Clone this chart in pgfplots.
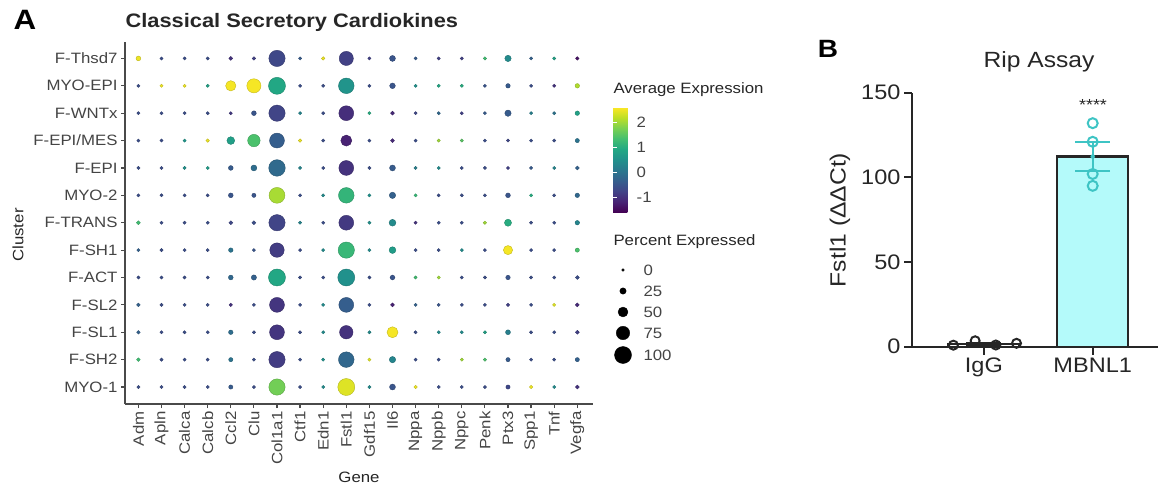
\documentclass[border=0pt]{standalone}
\usepackage{fontspec}
\setmainfont{Liberation Sans}[FakeStretch=1.12]
\usepackage{pgfplots}
\usepackage{pgfplotstable}
\pgfplotsset{compat=1.18}
\definecolor{tgray}{HTML}{444444}
\definecolor{agray}{HTML}{4A4A4A}
\definecolor{tealpt}{RGB}{62,196,196}
\definecolor{barfill}{RGB}{180,250,250}
\definecolor{bdark}{HTML}{262626}
\pgfplotsset{colormap={vir}{rgb255=(68,1,84) rgb255=(72,36,117) rgb255=(65,68,135) rgb255=(53,95,141) rgb255=(42,120,142) rgb255=(33,145,140) rgb255=(34,168,132) rgb255=(68,191,112) rgb255=(122,209,81) rgb255=(189,223,38) rgb255=(253,231,37)}}
\newcommand{\fs}[1]{\fontsize{#1}{#1}\selectfont}

% x = gene index, y = cluster index (0 = MYO-1 ... 12 = F-Thsd7), p = percent expressed, v = average expression
\pgfplotstableread{
x y p v
0 12 14 2.5
1 12 3 -0.6
2 12 3 -0.6
3 12 3 -0.6
4 12 8 -1.0
5 12 5 -0.8
6 12 95 -0.7
7 12 3 -0.4
8 12 5 2.5
9 12 80 -0.8
10 12 3 -0.8
11 12 22 -0.5
12 12 3 -0.4
13 12 3 -0.8
14 12 3 -0.8
15 12 4 1.3
16 12 25 0.4
17 12 3 -0.3
18 12 3 0.8
19 12 5 -1.4
0 11 3 -0.6
1 11 3 2.5
2 11 3 2.5
3 11 3 0.8
4 11 53 2.55
5 11 80 2.55
6 11 100 0.9
7 11 3 -0.6
8 11 3 -0.6
9 11 90 0.55
10 11 3 -0.6
11 11 20 -0.5
12 11 3 0.5
13 11 3 0.9
14 11 3 1.0
15 11 3 -0.5
16 11 12 -0.4
17 11 3 -0.6
18 11 3 -1.0
19 11 12 2.1
0 10 3 -0.6
1 10 3 -0.6
2 10 3 -0.6
3 10 3 -0.6
4 10 3 -0.9
5 10 14 -0.5
6 10 95 -0.75
7 10 3 0.3
8 10 3 -0.6
9 10 85 -1.05
10 10 3 1.0
11 10 8 -1.1
12 10 3 -0.7
13 10 3 -0.2
14 10 3 -0.8
15 10 3 -0.4
16 10 25 -0.4
17 10 3 0.2
18 10 3 0.0
19 10 12 0.8
0 9 3 -0.6
1 9 3 -0.6
2 9 3 0.6
3 9 5 2.5
4 9 35 0.75
5 9 68 1.4
6 9 85 -0.35
7 9 5 2.5
8 9 3 -0.6
9 9 58 -1.2
10 9 3 -0.6
11 9 8 -1.1
12 9 3 -0.6
13 9 3 2.0
14 9 3 1.5
15 9 3 -0.6
16 9 3 -0.7
17 9 3 -0.6
18 9 3 -0.6
19 9 10 0.0
0 8 3 -0.6
1 8 3 -0.6
2 8 3 0.5
3 8 3 0.7
4 8 14 -0.4
5 8 22 -0.1
6 8 97 -0.15
7 8 3 0.3
8 8 3 -0.6
9 8 85 -1.0
10 8 3 -0.6
11 8 22 -0.4
12 8 3 0.2
13 8 3 0.4
14 8 3 -0.6
15 8 3 -0.6
16 8 3 -0.8
17 8 3 -0.4
18 8 3 0.3
19 8 8 -0.3
0 7 3 -0.6
1 7 3 -0.6
2 7 3 -0.6
3 7 3 -0.6
4 7 14 -0.5
5 7 10 -0.5
6 7 92 2.05
7 7 3 -0.6
8 7 3 0.4
9 7 90 1.15
10 7 3 0.5
11 7 25 -0.3
12 7 3 1.2
13 7 3 -0.6
14 7 3 -0.6
15 7 3 -0.6
16 7 14 -0.5
17 7 3 1.0
18 7 3 -0.6
19 7 12 -0.2
0 6 8 1.3
1 6 3 -0.6
2 6 3 -0.6
3 6 3 -0.6
4 6 8 -0.7
5 6 8 -0.6
6 6 95 -0.75
7 6 3 0.3
8 6 3 -0.6
9 6 85 -0.9
10 6 3 0.5
11 6 28 0.4
12 6 3 -1.0
13 6 3 -0.6
14 6 3 -0.6
15 6 4 2.0
16 6 30 1.0
17 6 3 -0.6
18 6 3 -0.6
19 6 12 0.3
0 5 3 -0.3
1 5 3 -0.6
2 5 3 -0.6
3 5 3 -0.6
4 5 12 0.0
5 5 3 -0.5
6 5 82 -0.85
7 5 3 -0.6
8 5 3 0.4
9 5 95 1.2
10 5 3 0.4
11 5 28 0.7
12 5 3 -0.6
13 5 3 -0.6
14 5 3 0.4
15 5 3 -0.6
16 5 45 2.55
17 5 3 -0.6
18 5 3 -0.6
19 5 10 1.4
0 4 3 -0.6
1 4 3 -0.6
2 4 3 -0.6
3 4 3 -0.6
4 4 14 -0.2
5 4 17 -0.3
6 4 100 0.9
7 4 3 -0.6
8 4 3 -0.6
9 4 100 0.5
10 4 3 -0.6
11 4 14 -0.5
12 4 3 1.3
13 4 3 2.0
14 4 3 -0.6
15 4 3 -0.6
16 4 12 -0.5
17 4 3 -0.6
18 4 3 -0.6
19 4 8 -0.6
0 3 6 -0.3
1 3 3 -0.6
2 3 3 -0.6
3 3 3 -0.6
4 3 5 -1.0
5 3 3 -0.6
6 3 85 -0.95
7 3 3 -0.6
8 3 3 0.4
9 3 85 -0.35
10 3 3 -0.6
11 3 8 -1.2
12 3 3 -0.3
13 3 3 -0.5
14 3 3 -0.6
15 3 3 -0.6
16 3 6 -0.8
17 3 3 -0.6
18 3 3 2.4
19 3 8 -1.1
0 2 6 -0.3
1 2 3 -0.6
2 2 3 -0.6
3 2 3 -0.6
4 2 12 -0.1
5 2 3 -0.6
6 2 85 -0.95
7 2 3 -0.6
8 2 3 0.4
9 2 75 -1.0
10 2 3 0.4
11 2 58 2.55
12 2 3 -0.6
13 2 3 0.4
14 2 3 0.4
15 2 3 0.8
16 2 15 0.2
17 2 3 -0.6
18 2 3 -0.6
19 2 8 -0.8
0 1 6 1.3
1 1 3 -0.6
2 1 3 -0.6
3 1 3 -0.6
4 1 10 0.0
5 1 3 -0.6
6 1 95 -0.85
7 1 3 -0.6
8 1 3 0.5
9 1 90 -0.2
10 1 3 2.4
11 1 25 0.3
12 1 3 -0.6
13 1 3 -0.6
14 1 3 2.0
15 1 4 1.4
16 1 10 -0.4
17 1 3 -0.6
18 1 3 -0.6
19 1 10 -0.3
0 0 3 -0.6
1 0 3 -0.6
2 0 3 -0.6
3 0 3 -0.6
4 0 10 -0.4
5 0 3 -0.6
6 0 95 1.7
7 0 3 -0.6
8 0 3 0.4
9 0 100 2.4
10 0 3 0.4
11 0 22 -0.5
12 0 5 2.5
13 0 3 -0.6
14 0 3 -0.6
15 0 3 -0.6
16 0 10 -0.7
17 0 5 2.5
18 0 3 0.4
19 0 8 -1.0
}\dotdata

\pgfplotstableread{
x y p
10 95 0
10 74 25
10 53 50
10 32 75
10 10 100
}\sizelegend

\begin{document}
\begin{tikzpicture}
\useasboundingbox (0,0) rectangle (1159pt,491pt);

% ---------------- Panel A ----------------
\begin{axis}[
  at={(125pt,87pt)}, anchor=south west, scale only axis,
  width=468pt, height=362pt,
  xmin=-0.58, xmax=19.68, ymin=-0.62, ymax=12.6,
  axis x line*=bottom, axis y line*=left,
  axis line style={line width=1.6pt, draw=agray},
  tick style={line width=1.2pt, draw=agray},
  major tick length=4pt, tick align=outside,
  xtick={0,...,19},
  xticklabels={Adm,Apln,Calca,Calcb,Ccl2,Clu,Col1a1,Ctf1,Edn1,Fstl1,Gdf15,Il6,Nppa,Nppb,Nppc,Penk,Ptx3,Spp1,Tnf,Vegfa},
  ytick={0,...,12},
  yticklabels={MYO-1,F-SH2,F-SL1,F-SL2,F-ACT,F-SH1,F-TRANS,MYO-2,F-EPI,F-EPI/MES,F-WNTx,MYO-EPI,F-Thsd7},
  x tick label style={rotate=90, anchor=east, font=\fs{15}, text=tgray},
  y tick label style={font=\fs{15}, text=tgray},
  colormap name=vir, point meta min=-1.6, point meta max=2.6,
  colorbar right,
  colorbar style={at={(1.043,0.82)}, anchor=north west, scale only axis,
    width=20pt, height=105pt, ytick={-1,0,1,2},
    yticklabel pos=right, ytick pos=both,
    yticklabel style={font=\fs{15}, text=tgray, /pgf/number format/assume math mode=true},
    axis line style={draw=none},
    tick style={draw=white, line width=1pt},
    major tick length=4pt, tick align=inside},
  clip=false]
\addplot[scatter, only marks, mark=*, scatter src=explicit,
  visualization depends on={\thisrow{p} \as \pct},
  scatter/@pre marker code/.append style={/tikz/mark size=1.4+0.071*\pct}]
  table[x=x, y=y, meta=v] {\dotdata};
\end{axis}

% size legend
\begin{axis}[at={(613pt,126pt)}, anchor=south west, scale only axis,
  width=60pt, height=100pt, xmin=0, xmax=60, ymin=0, ymax=100,
  hide axis, clip=false]
\addplot[scatter, only marks, mark=*, scatter src=explicit,
  scatter/use mapped color={draw=black, fill=black},
  visualization depends on={\thisrow{p} \as \pct},
  scatter/@pre marker code/.append style={/tikz/mark size=1.4+0.071*\pct}]
  table[x=x, y=y, meta=p] {\sizelegend};
\node[anchor=west, font=\fs{15}, text=tgray] at (axis cs:27,95) {0};
\node[anchor=west, font=\fs{15}, text=tgray] at (axis cs:27,74) {25};
\node[anchor=west, font=\fs{15}, text=tgray] at (axis cs:27,53) {50};
\node[anchor=west, font=\fs{15}, text=tgray] at (axis cs:27,32) {75};
\node[anchor=west, font=\fs{15}, text=tgray] at (axis cs:27,10) {100};
\end{axis}

\node[font=\bfseries\fs{28}] at (25pt,471pt) {A};
\node[anchor=west, font=\bfseries\fs{19.5}, text=bdark] at (122pt,469pt) {Classical Secretory Cardiokines};
\node[rotate=90, font=\fs{15}, text=bdark] at (18pt,256pt) {Cluster};
\node[font=\fs{15}, text=bdark] at (359pt,14pt) {Gene};
\node[anchor=west, font=\fs{15}, text=bdark] at (610pt,401pt) {Average Expression};
\node[anchor=west, font=\fs{15}, text=bdark] at (610pt,249pt) {Percent Expressed};

% ---------------- Panel B ----------------
\begin{axis}[
  at={(912pt,144.3pt)}, anchor=south west, scale only axis,
  width=246pt, height=254pt,
  xmin=-0.66, xmax=1.6, ymin=0, ymax=150,
  axis x line*=bottom, axis y line*=left,
  axis line style={line width=2.2pt, draw=bdark},
  tick style={line width=2pt, draw=bdark},
  major tick length=8pt, tick align=outside,
  xtick={0,1}, xticklabels={IgG,MBNL1},
  ytick={0,50,100,150},
  tick label style={font=\fs{21}, text=bdark},
  yticklabel style={/pgf/number format/assume math mode=true},
  clip=false]
\addplot[ybar, bar width=71pt, bar shift=0pt, fill=white, draw=bdark, line width=2.2pt] coordinates {(0,1.4)};
\addplot[ybar, bar width=71pt, bar shift=0pt, fill=barfill, draw=bdark, line width=2.2pt] coordinates {(1,112.3)};
\addplot[only marks, mark=none, color=tealpt,
  error bars/.cd, y dir=both, y explicit,
  error bar style={line width=2pt, draw=tealpt},
  error mark options={rotate=90, mark size=17.5pt, line width=2pt, draw=tealpt}]
  coordinates {(1,112.3) +- (0,8.5)};
\addplot[only marks, mark=none, color=bdark,
  error bars/.cd, y dir=both, y explicit,
  error bar style={line width=2pt, draw=bdark},
  error mark options={rotate=90, mark size=17.5pt, line width=2pt, draw=bdark}]
  coordinates {(0,1.4) +- (0,0.6)};
\addplot[only marks, mark=o, mark size=5pt, line width=2pt, color=tealpt]
  coordinates {(1,132) (1,121) (1,102) (1,95)};
\addplot[only marks, mark=o, mark size=4.5pt, line width=2pt, color=bdark]
  coordinates {(-0.28,0.9) (-0.08,3.5) (0.11,1.0) (0.3,2.0)};
\end{axis}

\node[font=\bfseries\fs{25}] at (828pt,442pt) {B};
\node[font=\fs{22}, text=bdark] at (1039pt,429pt) {Rip Assay};
\node[rotate=90, font=\fs{22}, text=bdark] at (840pt,271pt) {Fstl1 (ΔΔCt)};
\node[font=\fs{16}, text=bdark] at (1093pt,386pt) {****};
\end{tikzpicture}
\end{document}
